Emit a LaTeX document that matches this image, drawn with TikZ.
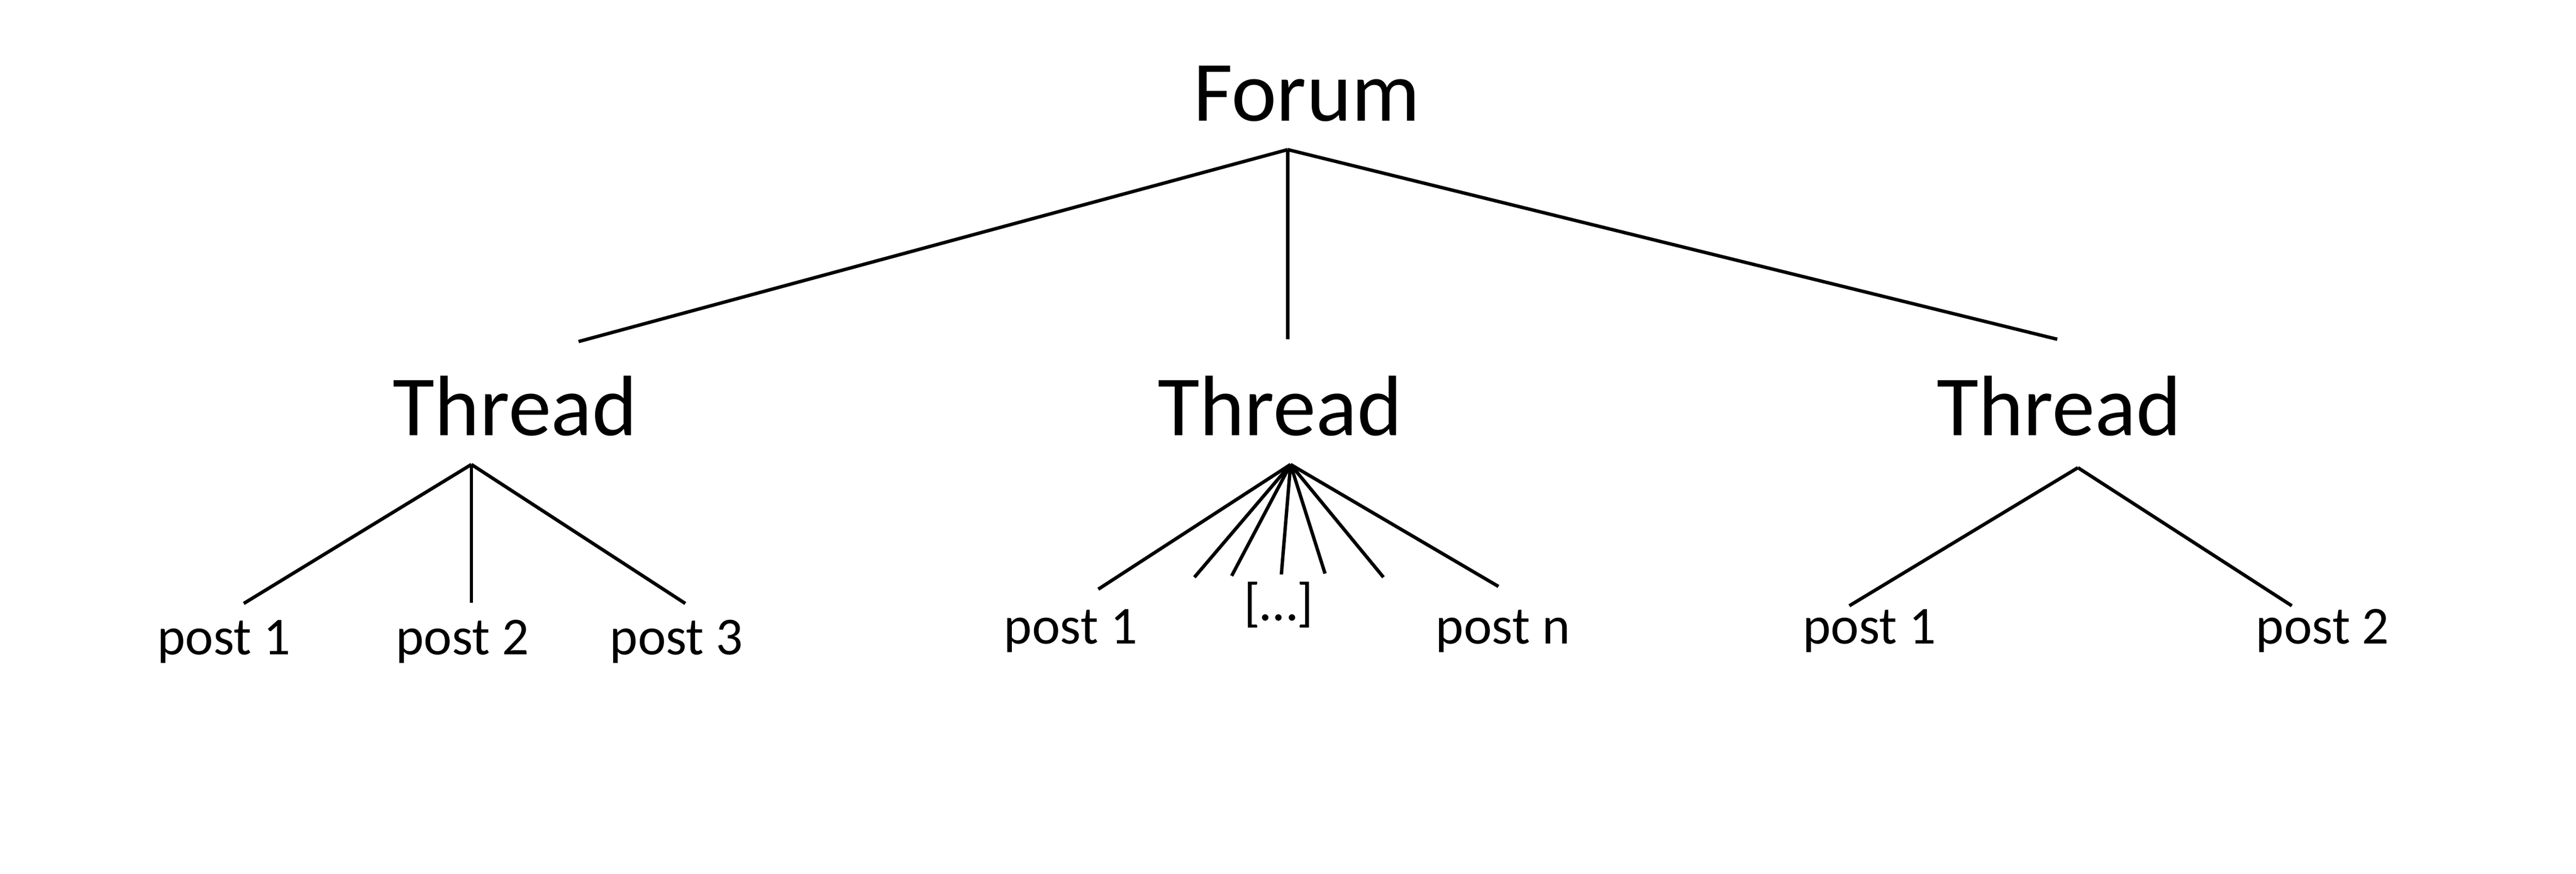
\documentclass[tikz,border=0pt]{standalone}
\usepackage{fontspec}
\setmainfont{Carlito}
\usepackage{tikz}

\begin{document}
\begin{tikzpicture}[x=1cm,y=-1cm]
	\tikzstyle{big}=[inner sep=0pt, anchor=base, font=\fontsize{53}{60}\selectfont]
	\tikzstyle{post}=[inner sep=0pt, anchor=base, font=\fontsize{33}{40}\selectfont]
	\tikzstyle{connect}=[line width=2.1pt]
	\useasboundingbox (0,0) rectangle (56.01,18.98);
	% labels
	\node[big] (forum) at (28.41,2.63) {Forum};
	\node[big] (t1) at (11.20,9.46) {Thread};
	\node[big] (t2) at (27.83,9.46) {Thread};
	\node[big] (t3) at (44.77,9.46) {Thread};
	\node[post] (p11) at (4.87,14.22) {post 1};
	\node[post] (p12) at (10.06,14.22) {post 2};
	\node[post] (p13) at (14.71,14.22) {post 3};
	\node[post] (p21) at (23.28,13.99) {post 1};
	\node[post, anchor=center] (pdots) at (27.80,13.14) {[…]};
	\node[post] (p2n) at (32.68,13.99) {post n};
	\node[post] (p31) at (40.65,13.99) {post 1};
	\node[post] (p32) at (50.50,13.99) {post 2};
	% branch points
	\coordinate (forum-root) at (28.00,3.25);
	\coordinate (t1-top) at (12.58,7.42);
	\coordinate (t2-top) at (28.00,7.37);
	\coordinate (t3-top) at (44.73,7.37);
	\coordinate (t1-root) at (10.25,10.09);
	\coordinate (t2-root) at (28.06,10.09);
	\coordinate (t3-root) at (45.18,10.16);
	\coordinate (p11-top) at (5.30,13.11);
	\coordinate (p12-top) at (10.25,13.09);
	\coordinate (p13-top) at (14.90,13.11);
	\coordinate (p21-top) at (23.88,12.80);
	\coordinate (d1) at (25.97,12.54);
	\coordinate (d2) at (26.78,12.51);
	\coordinate (d3) at (27.86,12.48);
	\coordinate (d4) at (28.81,12.46);
	\coordinate (d5) at (30.08,12.54);
	\coordinate (p2n-top) at (32.58,12.74);
	\coordinate (p31-top) at (40.21,13.16);
	\coordinate (p32-top) at (49.83,13.16);
	\path
	(forum-root) edge [connect] (t1-top)
	(forum-root) edge [connect] (t2-top)
	(forum-root) edge [connect] (t3-top)
	(t1-root) edge [connect] (p11-top)
	(t1-root) edge [connect] (p12-top)
	(t1-root) edge [connect] (p13-top)
	(t2-root) edge [connect] (p21-top)
	(t2-root) edge [connect] (p2n-top)
	(t3-root) edge [connect] (p31-top)
	(t3-root) edge [connect] (p32-top);
	\foreach \d in {d1,d2,d3,d4,d5}
		\draw[connect] (t2-root) -- (\d);
\end{tikzpicture}
\end{document}
